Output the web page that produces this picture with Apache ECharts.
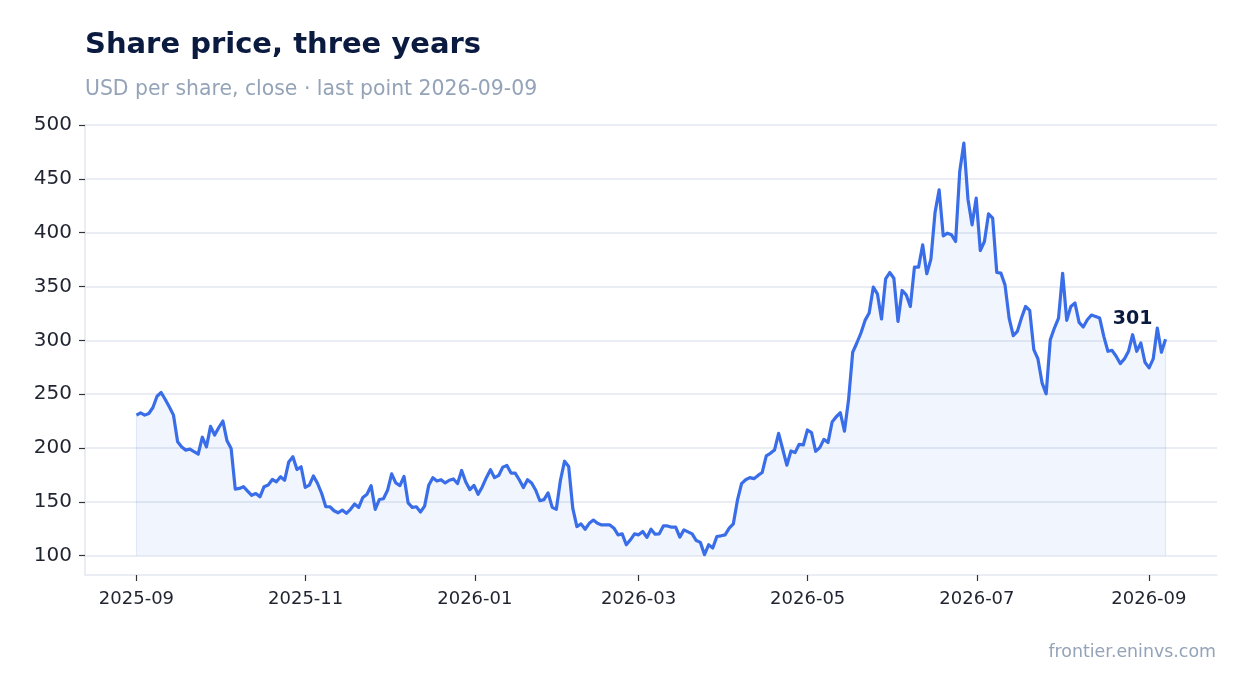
<!DOCTYPE html>
<html lang="en">
<head>
    <meta charset="UTF-8">
    <title>Share price, three years</title>
    <script src="https://cdn.jsdelivr.net/npm/echarts@6/dist/echarts.min.js"></script>
    <style>
        html, body { margin: 0; padding: 0; background: #fff; }
        #main { width: 1247px; height: 693px; }
    </style>
</head>
<body>
<div id="main"></div>

<script type="text/javascript">
    // first and last close, points are evenly spaced between them
    var FIRST_DAY = '2025-09-01';
    var LAST_DAY = '2026-09-07';

    // closes in order
    var closeSepOct = [230.5, 232.7, 230.5, 232, 237.6, 248, 251.5, 245, 238, 230.5,
        205.7, 201, 198, 199, 196.5, 194.3, 210, 201, 220, 212,
        219, 225, 206.6, 199.5, 161.8, 162.4, 164, 160, 156, 157.7,
        154.6, 164, 165.5, 170.7, 168.6, 173.2, 170, 187, 191.8, 180,
        182.5, 163.3, 165.5, 174, 167, 157.7, 145.4, 145.4, 141.7, 139.8];
    var closeNovJan = [142.3, 139.3, 143, 147.9, 144.8, 154, 157, 165, 143, 152.1,
        152.8, 160.7, 176, 167.5, 165, 173.6, 149, 144.8, 145.4, 140.5,
        146, 165.3, 172.4, 169.3, 170.5, 167.5, 170, 171.2, 167, 179.1,
        168.4, 161.3, 165.3, 157, 163.8, 172.4, 179.8, 172.4, 174.5, 182.2,
        183.7, 176.7, 176.7, 170.5, 163.2, 170.5, 167.5, 160.7, 151, 152,
        158.3];
    var closeFebApr = [144.8, 143, 170, 187.7, 182.8, 143.9, 127, 129.5, 124.5, 130,
        133, 130, 128.5, 128.5, 128.5, 125.5, 119.3, 120.2, 110.1, 114.7,
        120.2, 119.3, 122.4, 116.9, 124.5, 119.9, 120.2, 127.6, 127.6, 126.4,
        126.4, 117.2, 123.9, 122.1, 120.2, 114, 112.3, 100.9, 110.1, 107,
        117.8, 118.4, 119.3, 125.5, 129.5, 151.5, 166.9, 170.5, 172.4, 171.5,
        174.5];
    var closeAprMay = [177.2, 192.6, 195, 198.1, 213.6, 198.8, 184, 197.2, 195.7, 203.4,
        202.8, 216.7, 214.2, 196.9, 200.3, 208, 205, 224.1, 229, 232.7,
        215.7, 245, 288.9, 297.5, 306.8, 318.5, 325.3, 349.4, 343.2, 319.8,
        357];
    var closeJunJul = [363, 357.7, 317.5, 346.3, 342.3, 331.4, 368, 368, 388.7, 361.8,
        375.4, 418.7, 439.8, 397, 399.5, 398, 391.8, 456.8, 483.1, 431.1,
        407.3, 432, 383.4, 391.8, 417.5, 413.5, 363, 362.4, 351.5, 320.6];
    var closeJulSep = [304.3, 308.3, 320.7, 331.5, 327.8, 291.4, 282.7, 260.5, 250.3, 300.6,
        311.4, 320.7, 362.3, 318.5, 331.5, 334.6, 316.7, 312.3, 319.1, 323.5,
        322.2, 320.7, 303.7, 289.8, 290.7, 285.2, 278.4, 282.7, 289.8, 305.2,
        289.8, 297.5, 279.6, 274.4, 282.7, 311.4, 288.9, 301];

    var xTickDays = ['2025-09-01', '2025-11-01', '2026-01-01', '2026-03-01', '2026-05-01', '2026-07-01', '2026-09-01'];
    var yTicks = [100, 150, 200, 250, 300, 350, 400, 450, 500];

    function day(s) {
        return new Date(s + 'T00:00:00').getTime();
    }

    var closes = [].concat(closeSepOct, closeNovJan, closeFebApr, closeAprMay, closeJunJul, closeJulSep);
    var t0 = day(FIRST_DAY);
    var t1 = day(LAST_DAY);
    var step = (t1 - t0) / (closes.length - 1);
    var seriesData = closes.map(function (v, i) {
        return [t0 + i * step, v];
    });
    var pad = (t1 - t0) * 0.05;
    var last = seriesData[seriesData.length - 1];
    var first = seriesData[0];

    var myChart = echarts.init(document.getElementById('main'), null, {renderer: 'canvas'});

    var font = 'DejaVu Sans';
    var navy = '#0b1b40';
    var grey = '#94a3b8';
    var lineBlue = '#3a6ee8';
    var gridGrey = '#e3e7ef';

    var option = {
        animation: false,
        backgroundColor: '#fff',
        textStyle: {fontFamily: font},
        title: [
            {
                text: 'Share price, three years',
                left: 85, top: 31, padding: 0,
                textStyle: {fontFamily: font, fontSize: 29, fontWeight: 'bold', color: navy}
            },
            {
                text: 'USD per share, close · last point 2026-09-09',
                left: 85, top: 80, padding: 0,
                textStyle: {fontFamily: font, fontSize: 20.4, fontWeight: 'normal', color: grey}
            },
            {
                text: 'frontier.eninvs.com',
                right: 31, top: 644, padding: 0,
                textStyle: {fontFamily: font, fontSize: 17.4, fontWeight: 'normal', color: grey}
            }
        ],
        grid: {left: 85, right: 30, top: 125, bottom: 118, containLabel: false},
        // dates as plain timestamps on a value axis, labelled by month
        xAxis: {
            type: 'value',
            min: t0 - pad,
            max: t1 + pad,
            axisLine: {show: true, onZero: false, lineStyle: {color: gridGrey, width: 1.5}},
            axisTick: {
                show: true,
                customValues: xTickDays.map(day),
                length: 6,
                lineStyle: {color: '#333', width: 1.2}
            },
            axisLabel: {
                customValues: xTickDays.map(day),
                fontFamily: font, fontSize: 18, color: '#1f2430', margin: 15,
                formatter: function (v) {
                    var d = new Date(v);
                    var m = d.getMonth() + 1;
                    return d.getFullYear() + '-' + (m < 10 ? '0' + m : m);
                }
            },
            splitLine: {show: false}
        },
        yAxis: {
            type: 'value',
            min: 82,
            max: 500,
            splitNumber: 8,
            axisLine: {show: true, onZero: false, lineStyle: {color: gridGrey, width: 1.5}},
            axisTick: {
                show: true,
                customValues: yTicks,
                length: 6,
                lineStyle: {color: '#333', width: 1.2}
            },
            axisLabel: {
                customValues: yTicks,
                fontFamily: font, fontSize: 20, color: '#1f2430', margin: 13
            },
            splitLine: {show: true, lineStyle: {color: gridGrey, width: 1.5}}
        },
        series: [{
            name: 'close',
            type: 'line',
            data: seriesData,
            showSymbol: false,
            symbol: 'none',
            lineStyle: {color: lineBlue, width: 3.2, join: 'round'},
            areaStyle: {color: 'rgba(58,110,232,0.1)', origin: 100},
            markLine: {
                silent: true,
                symbol: 'none',
                label: {show: false},
                lineStyle: {color: 'rgba(58,110,232,0.12)', width: 1.2, type: 'solid'},
                data: [
                    [{coord: [first[0], 100]}, {coord: [first[0], first[1]]}],
                    [{coord: [last[0], 100]}, {coord: [last[0], last[1]]}]
                ]
            },
            markPoint: {
                silent: true,
                symbol: 'circle',
                symbolSize: 0,
                data: [{coord: last, value: last[1]}],
                label: {
                    show: true,
                    position: 'inside',
                    offset: [-33, -20],
                    formatter: '{c}',
                    fontFamily: font, fontSize: 19, fontWeight: 'bold', color: navy
                }
            }
        }]
    };

    myChart.setOption(option);
</script>

</body>
</html>
